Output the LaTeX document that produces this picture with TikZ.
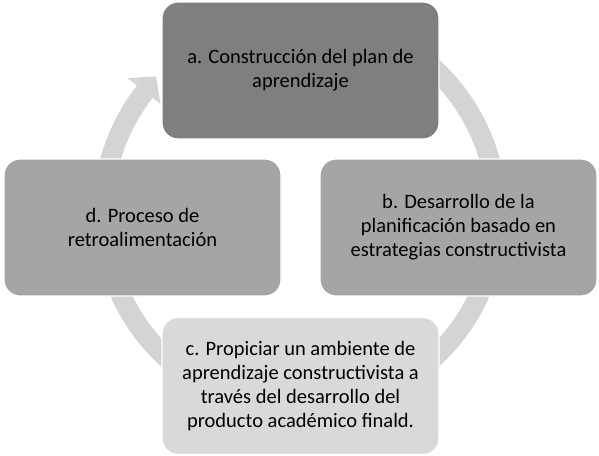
\documentclass[tikz,border=0pt]{standalone}
\usepackage{fontspec}
\setmainfont{Carlito}
\definecolor{stepdark}{HTML}{7F7F7F}
\definecolor{stepmid}{HTML}{A5A5A5}
\definecolor{steplight}{HTML}{D9D9D9}
\definecolor{ringgrey}{HTML}{D4D4D4}
\tikzset{
  stepbox/.style={rounded corners=16pt, draw=white, line width=1.2pt,
    minimum width=277pt, minimum height=137pt, align=center,
    font=\fontsize{20.5}{24}\selectfont},
  ring/.style={draw=ringgrey, line width=20pt},
}
\begin{document}
\begin{tikzpicture}[x=1pt,y=-1pt]
\useasboundingbox (0,0) rectangle (599,455);
\draw[ring] ([shift={(300,213)}]-80:197) arc[start angle=-80, end angle=218, radius=197];
\fill[ringgrey] ([shift={(300,213)}]-142:177) -- ([shift={(300,213)}]-142:219) -- ([shift={(300,213)}]-136.5:198.5) -- cycle;
\node[stepbox, fill=stepdark] (plan) at (300.5,70.5) {a. Construcción del plan de\\aprendizaje};
\node[stepbox, fill=stepmid] (desarrollo) at (458.5,227.5) {b. Desarrollo de la\\planificación basado en\\estrategias constructivista};
\node[stepbox, fill=steplight] (ambiente) at (300.5,386) {c. Propiciar un ambiente de\\aprendizaje constructivista a\\través del desarrollo del\\producto académico finald.};
\node[stepbox, fill=stepmid] (retro) at (142.5,227.5) {d. Proceso de\\retroalimentación};
\end{tikzpicture}
\end{document}
